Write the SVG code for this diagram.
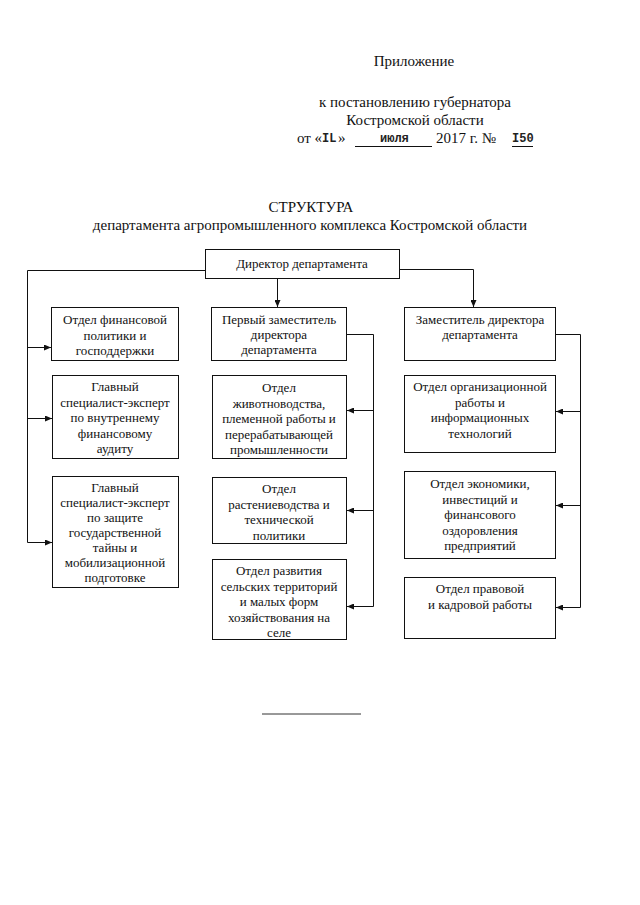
<svg xmlns="http://www.w3.org/2000/svg" width="640" height="905" viewBox="0 0 640 905">
<defs>
<marker id="arr" markerWidth="8" markerHeight="6" refX="7" refY="3" orient="auto" markerUnits="userSpaceOnUse">
<path d="M0,0 L7,3 L0,6 Z" fill="#111"/>
</marker>
<style>
.t{font-family:"Liberation Serif","Times New Roman",serif;fill:#111}
.h{font-size:15px;text-anchor:middle}
.b{font-size:13px;text-anchor:middle}
.m{font-family:"Liberation Mono","Courier New",monospace;font-weight:bold;font-size:12px;fill:#222}
.box{fill:#fff;stroke:#111;stroke-width:1}
.c{fill:none;stroke:#111;stroke-width:1}
</style>
</defs>
<rect width="640" height="905" fill="#fff"/>

<g id="header">
<text class="t h" x="414" y="66">Приложение</text>
<text class="t h" x="415" y="107">к постановлению губернатора</text>
<text class="t h" x="415" y="125">Костромской области</text>
<text class="t" font-size="15" x="297" y="143">от «</text>
<text class="m" x="322" y="142">IL</text>
<text class="t" font-size="15" x="338" y="143">»</text>
<text class="m" x="380" y="142">июля</text>
<text class="t" font-size="15" x="436" y="143">2017 г. №</text>
<text class="m" x="512" y="142">I50</text>
<line class="c" x1="355" y1="146.5" x2="432" y2="146.5"/>
<line class="c" x1="512" y1="146.5" x2="533" y2="146.5"/>
</g>

<g id="title">
<text class="t h" x="311" y="212">СТРУКТУРА</text>
<text class="t h" x="310" y="230">департамента агропромышленного комплекса Костромской области</text>
</g>

<g id="connectors">
<polyline class="c" points="205,270.5 27.5,270.5 27.5,542.5"/>
<line class="c" x1="27.5" y1="347.5" x2="51" y2="347.5" marker-end="url(#arr)"/>
<line class="c" x1="27.5" y1="418.5" x2="52" y2="418.5" marker-end="url(#arr)"/>
<line class="c" x1="27.5" y1="542.5" x2="52" y2="542.5" marker-end="url(#arr)"/>
<line class="c" x1="277.5" y1="279" x2="277.5" y2="307" marker-end="url(#arr)"/>
<polyline class="c" points="400,269.5 473.5,269.5 473.5,307" marker-end="url(#arr)"/>
<polyline class="c" points="347,334.5 373.5,334.5 373.5,606.5 347,606.5" marker-end="url(#arr)"/>
<line class="c" x1="373.5" y1="410.5" x2="347" y2="410.5" marker-end="url(#arr)"/>
<line class="c" x1="373.5" y1="510.5" x2="347" y2="510.5" marker-end="url(#arr)"/>
<polyline class="c" points="556,334.5 580.5,334.5 580.5,607.5 556,607.5" marker-end="url(#arr)"/>
<line class="c" x1="580.5" y1="411.5" x2="556" y2="411.5" marker-end="url(#arr)"/>
<line class="c" x1="580.5" y1="505.5" x2="556" y2="505.5" marker-end="url(#arr)"/>
</g>

<g id="director">
<rect class="box" x="205.5" y="249.5" width="194" height="29"/>
<text class="t b" x="302" y="268">Директор департамента</text>
</g>

<g id="fin-policy">
<rect class="box" x="51.5" y="307.5" width="127" height="53"/>
<text class="t b" x="115" y="324">Отдел финансовой</text>
<text class="t b" x="115" y="339.5">политики и</text>
<text class="t b" x="115" y="355">господдержки</text>
</g>

<g id="audit">
<rect class="box" x="52.5" y="375.5" width="126" height="83"/>
<text class="t b" x="115" y="391">Главный</text>
<text class="t b" x="115" y="406.5">специалист-эксперт</text>
<text class="t b" x="115" y="422">по внутреннему</text>
<text class="t b" x="115" y="437.5">финансовому</text>
<text class="t b" x="115" y="453">аудиту</text>
</g>

<g id="secret">
<rect class="box" x="52.5" y="476.5" width="126" height="111"/>
<text class="t b" x="115" y="492">Главный</text>
<text class="t b" x="115" y="507">специалист-эксперт</text>
<text class="t b" x="115" y="522">по защите</text>
<text class="t b" x="115" y="537">государственной</text>
<text class="t b" x="115" y="552">тайны и</text>
<text class="t b" x="115" y="567">мобилизационной</text>
<text class="t b" x="115" y="582">подготовке</text>
</g>

<g id="first-deputy">
<rect class="box" x="211.5" y="307.5" width="135" height="53"/>
<text class="t b" x="279" y="324">Первый заместитель</text>
<text class="t b" x="279" y="339">директора</text>
<text class="t b" x="279" y="354">департамента</text>
</g>

<g id="livestock">
<rect class="box" x="212.5" y="375.5" width="134" height="83"/>
<text class="t b" x="279" y="392">Отдел</text>
<text class="t b" x="279" y="407.5">животноводства,</text>
<text class="t b" x="279" y="423">племенной работы и</text>
<text class="t b" x="279" y="438.5">перерабатывающей</text>
<text class="t b" x="279" y="454">промышленности</text>
</g>

<g id="crops">
<rect class="box" x="212.5" y="477.5" width="134" height="66"/>
<text class="t b" x="279" y="493">Отдел</text>
<text class="t b" x="279" y="508.5">растениеводства и</text>
<text class="t b" x="279" y="524">технической</text>
<text class="t b" x="279" y="539.5">политики</text>
</g>

<g id="rural">
<rect class="box" x="212.5" y="559.5" width="134" height="80"/>
<text class="t b" x="279" y="575">Отдел развития</text>
<text class="t b" x="279" y="590.5">сельских территорий</text>
<text class="t b" x="279" y="606">и малых форм</text>
<text class="t b" x="279" y="621.5">хозяйствования на</text>
<text class="t b" x="279" y="637">селе</text>
</g>

<g id="deputy">
<rect class="box" x="404.5" y="307.5" width="151" height="53"/>
<text class="t b" x="480" y="324">Заместитель директора</text>
<text class="t b" x="480" y="339">департамента</text>
</g>

<g id="org">
<rect class="box" x="404.5" y="375.5" width="151" height="77"/>
<text class="t b" x="480" y="391">Отдел организационной</text>
<text class="t b" x="480" y="406.5">работы и</text>
<text class="t b" x="480" y="422">информационных</text>
<text class="t b" x="480" y="437.5">технологий</text>
</g>

<g id="economy">
<rect class="box" x="404.5" y="471.5" width="151" height="87"/>
<text class="t b" x="480" y="488">Отдел экономики,</text>
<text class="t b" x="480" y="503.5">инвестиций и</text>
<text class="t b" x="480" y="519">финансового</text>
<text class="t b" x="480" y="534.5">оздоровления</text>
<text class="t b" x="480" y="550">предприятий</text>
</g>

<g id="legal">
<rect class="box" x="404.5" y="577.5" width="151" height="61"/>
<text class="t b" x="480" y="593">Отдел правовой</text>
<text class="t b" x="480" y="608.5">и кадровой работы</text>
</g>

<line x1="262" y1="714" x2="361" y2="714" stroke="#333" stroke-width="1"/>
</svg>
